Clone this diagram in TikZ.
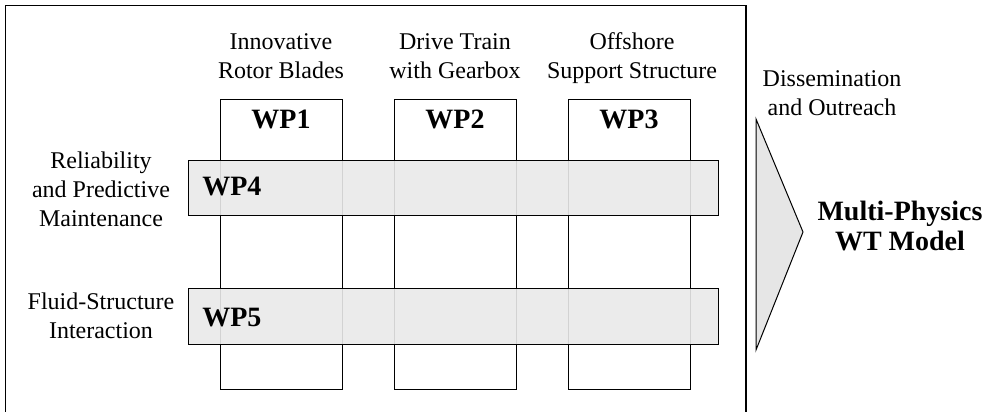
\documentclass[tikz,border=0pt]{standalone}
\usepackage{fontspec}
\setmainfont{Liberation Serif}
\definecolor{barfill}{RGB}{233,233,233}
\definecolor{trifill}{RGB}{230,230,230}
\begin{document}
\begin{tikzpicture}[x=0.75pt,y=-0.75pt,
  vbox/.style={draw=black,line width=0.75pt,fill=white,inner sep=0pt,outer sep=0pt,
    minimum width=91.5pt,minimum height=217.5pt},
  hbar/.style={draw=black,line width=0.75pt,fill=barfill,fill opacity=0.9,draw opacity=1,
    inner sep=0pt,outer sep=0pt,minimum width=397.5pt},
  wplabel/.style={font=\fontsize{21}{24}\selectfont\bfseries,inner sep=0pt,anchor=base},
  lab/.style={font=\fontsize{18}{21.75}\selectfont,align=center,inner sep=0pt,anchor=base},
  blab/.style={font=\fontsize{21}{22}\selectfont\bfseries,align=center,inner sep=0pt,anchor=base},
  frame/.style={draw=black,line width=1pt}]
\useasboundingbox (0,0) rectangle (993,411);
\begin{scope}
\clip (0,0) rectangle (993,411);
\draw[frame] (5.5,5.5) rectangle (746,430);
\end{scope}
% vertical work packages
\node[vbox] (wp1) at (281,244) {};
\node[vbox] (wp2) at (455,244) {};
\node[vbox] (wp3) at (629,244) {};
\node[wplabel] (wp1l) at (281,128) {WP1};
\node[wplabel] (wp2l) at (455,128) {WP2};
\node[wplabel] (wp3l) at (629,128) {WP3};
% horizontal work packages
\node[hbar,minimum height=41.25pt] (wp4) at (453,187.5) {};
\node[hbar,minimum height=42pt] (wp5) at (453,316) {};
\node[wplabel,anchor=base west] (wp4l) at (202,195) {WP4};
\node[wplabel,anchor=base west] (wp5l) at (202,326) {WP5};
% column titles
\node[lab] (t1) at (281,78) {Innovative\\Rotor Blades};
\node[lab] (t2) at (455,78) {Drive Train\\with Gearbox};
\node[lab] (t3) at (632,78) {Offshore\\Support Structure};
% row titles
\node[lab] (r1) at (101,226) {Reliability\\and Predictive\\Maintenance};
\node[lab] (r2) at (101,338) {Fluid-Structure\\Interaction};
% dissemination
\node[lab] (d1) at (832,115) {Dissemination\\and Outreach};
\draw[line width=0.75pt,fill=trifill] (756,119) coordinate (ta) -- (803,232) coordinate (tb) -- (756,350) coordinate (tc) -- cycle;
\node[blab] (mp) at (900,250) {Multi-Physics\\WT Model};
\end{tikzpicture}
\end{document}
